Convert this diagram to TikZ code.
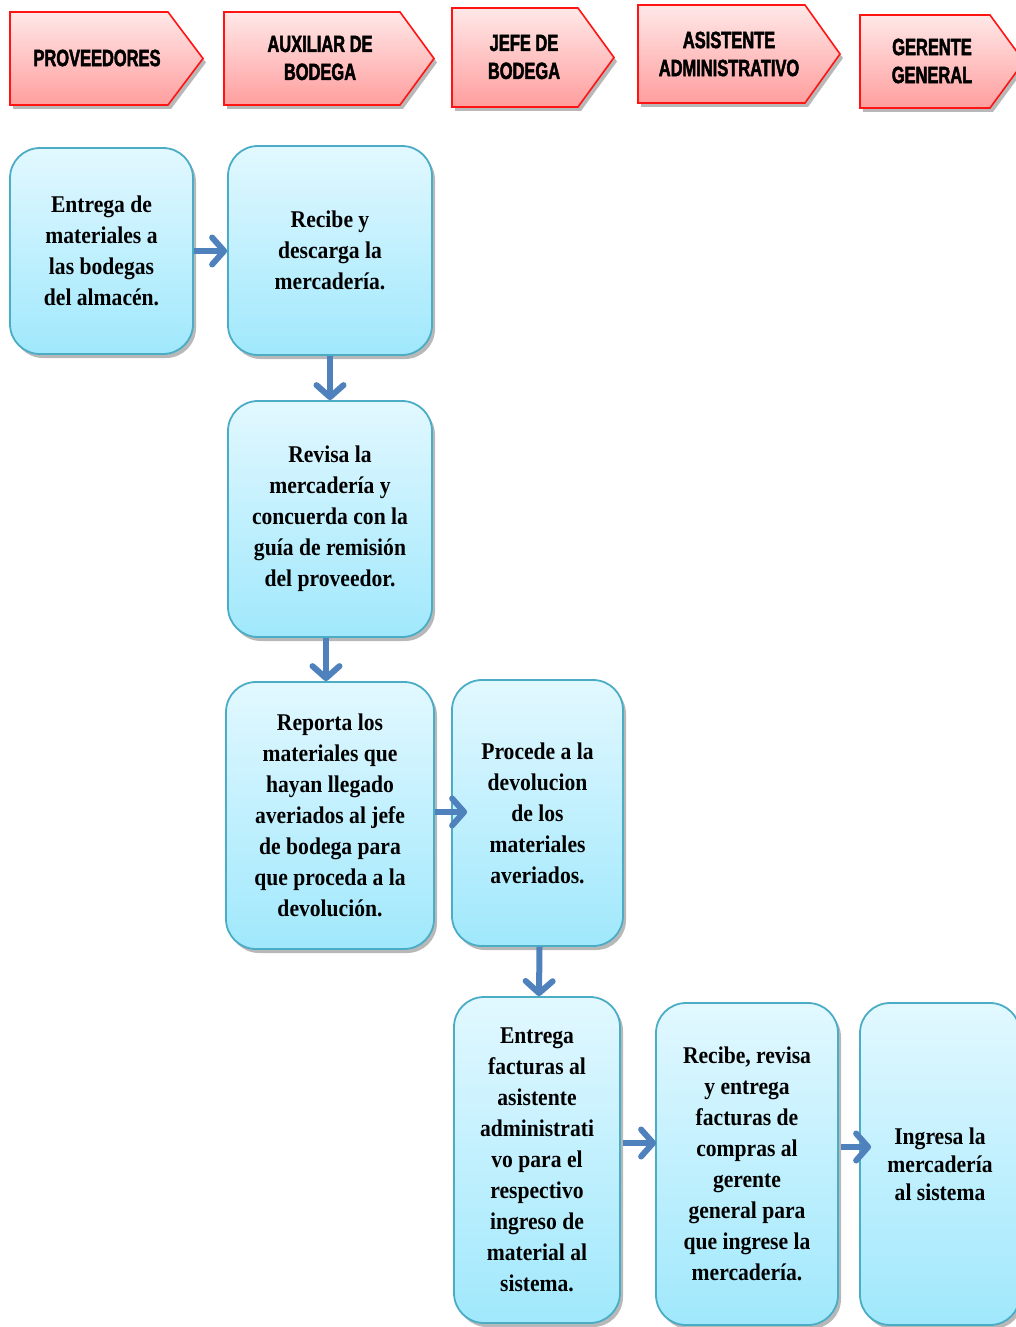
\documentclass[tikz,border=0pt]{standalone}
\usepackage{fontspec}
\usetikzlibrary{shadows,arrows.meta,calc}
\newfontfamily\bodyfont{Liberation Serif}[FakeStretch=0.9]
\newfontfamily\hdrfont{Liberation Sans}[FakeStretch=0.7,FakeBold=2]

\definecolor{hdrtop}{RGB}{255,232,232}
\definecolor{hdrbot}{RGB}{255,158,158}
\definecolor{hdrline}{RGB}{255,20,20}
\definecolor{boxtop}{RGB}{226,248,255}
\definecolor{boxbot}{RGB}{160,232,252}
\definecolor{boxline}{RGB}{75,172,198}
\definecolor{flowblue}{RGB}{79,129,189}

\tikzset{
  softshadow/.style={drop shadow={shadow xshift=3pt, shadow yshift=-4pt, fill=black, opacity=0.28}},
  hdrshape/.style={draw=hdrline, line width=1.6pt, top color=hdrtop, bottom color=hdrbot, softshadow},
  hdrtext/.style={align=center, inner sep=0pt, font=\hdrfont\bfseries\fontsize{23.5}{28}\selectfont},
  stepbox/.style={draw=boxline, line width=1.8pt, rounded corners=30pt,
    top color=boxtop, bottom color=boxbot, softshadow,
    align=center, inner sep=0pt, font=\bodyfont\bfseries\fontsize{24}{31}\selectfont},
  flow/.style={draw=flowblue, line width=6pt, -{Straight Barb[length=12pt,width=27pt,round]}},
}

\begin{document}
\begin{tikzpicture}[x=1pt,y=-1pt]
\useasboundingbox (0,0) rectangle (1016,1327);

% lane headers
\path[hdrshape] (10,12) -- (168,12) -- (203,58.5) -- (168,105) -- (10,105) -- cycle;
\path[hdrshape] (224,12) -- (400,12) -- (434,58.5) -- (400,105) -- (224,105) -- cycle;
\path[hdrshape] (452,8) -- (578,8) -- (614,57.5) -- (578,107) -- (452,107) -- cycle;
\path[hdrshape] (638,5) -- (805,5) -- (840,54) -- (805,103) -- (638,103) -- cycle;
\path[hdrshape] (860,15) -- (990,15) -- (1024,61.5) -- (990,108) -- (860,108) -- cycle;

\node[hdrtext] (h1) at (97,58) {PROVEEDORES};
\node[hdrtext] (h2) at (320,58) {AUXILIAR DE\\BODEGA};
\node[hdrtext] (h3) at (524,57) {JEFE DE\\BODEGA};
\node[hdrtext] (h4) at (729,54) {ASISTENTE\\ADMINISTRATIVO};
\node[hdrtext] (h5) at (932,61) {GERENTE\\GENERAL};

% process steps
\node[stepbox, minimum width=183, minimum height=206] (b1) at (101.5,251)
  {Entrega de\\materiales a\\las bodegas\\del almacén.};
\node[stepbox, minimum width=204, minimum height=209] (b2) at (330,250.5)
  {Recibe y\\descarga la\\mercadería.};
\node[stepbox, minimum width=204, minimum height=236] (b3) at (330,519)
  {Revisa la\\mercadería y\\concuerda con la\\guía de remisión\\del proveedor.};
\node[stepbox, minimum width=208, minimum height=267] (b4) at (330,815.5)
  {Reporta los\\materiales que\\hayan llegado\\averiados al jefe\\de bodega para\\que proceda a la\\devolución.};
\node[stepbox, minimum width=171, minimum height=266] (b5) at (537.5,813)
  {Procede a la\\devolucion\\de los\\materiales\\averiados.};
\node[stepbox, minimum width=166, minimum height=326] (b6) at (537,1160)
  {Entrega\\facturas al\\asistente\\administrati\\vo para el\\respectivo\\ingreso de\\material al\\sistema.};
\node[stepbox, minimum width=182, minimum height=322] (b7) at (747,1164)
  {Recibe, revisa\\y entrega\\facturas de\\compras al\\gerente\\general para\\que ingrese la\\mercadería.};
\node[stepbox, minimum width=160, minimum height=322, font=\bodyfont\bfseries\fontsize{24}{28}\selectfont] (b8) at (940,1164)
  {Ingresa la\\mercadería\\al sistema};

% flow connectors
\draw[flow] (b1.east) -- (b1.east -| b2.west);
\draw[flow] (b2.south) -- (b3.north);
\draw[flow] ($(b3.south)+(-4,0)$) -- ($(b4.north)+(-4,0)$);
\draw[flow] ($(b4.east)+(0,-3.5)$) -- ($(b4.east -| b5.west)+(16,-3.5)$);
\draw[flow] ($(b5.south)+(2,0)$) -- ($(b6.north)+(2,0)$);
\draw[flow] ($(b6.east)+(2,-17)$) -- ($(b6.east -| b7.west)+(1,-17)$);
\draw[flow] ($(b7.east)+(2,-17)$) -- ($(b7.east -| b8.west)+(12,-17)$);
\end{tikzpicture}
\end{document}
